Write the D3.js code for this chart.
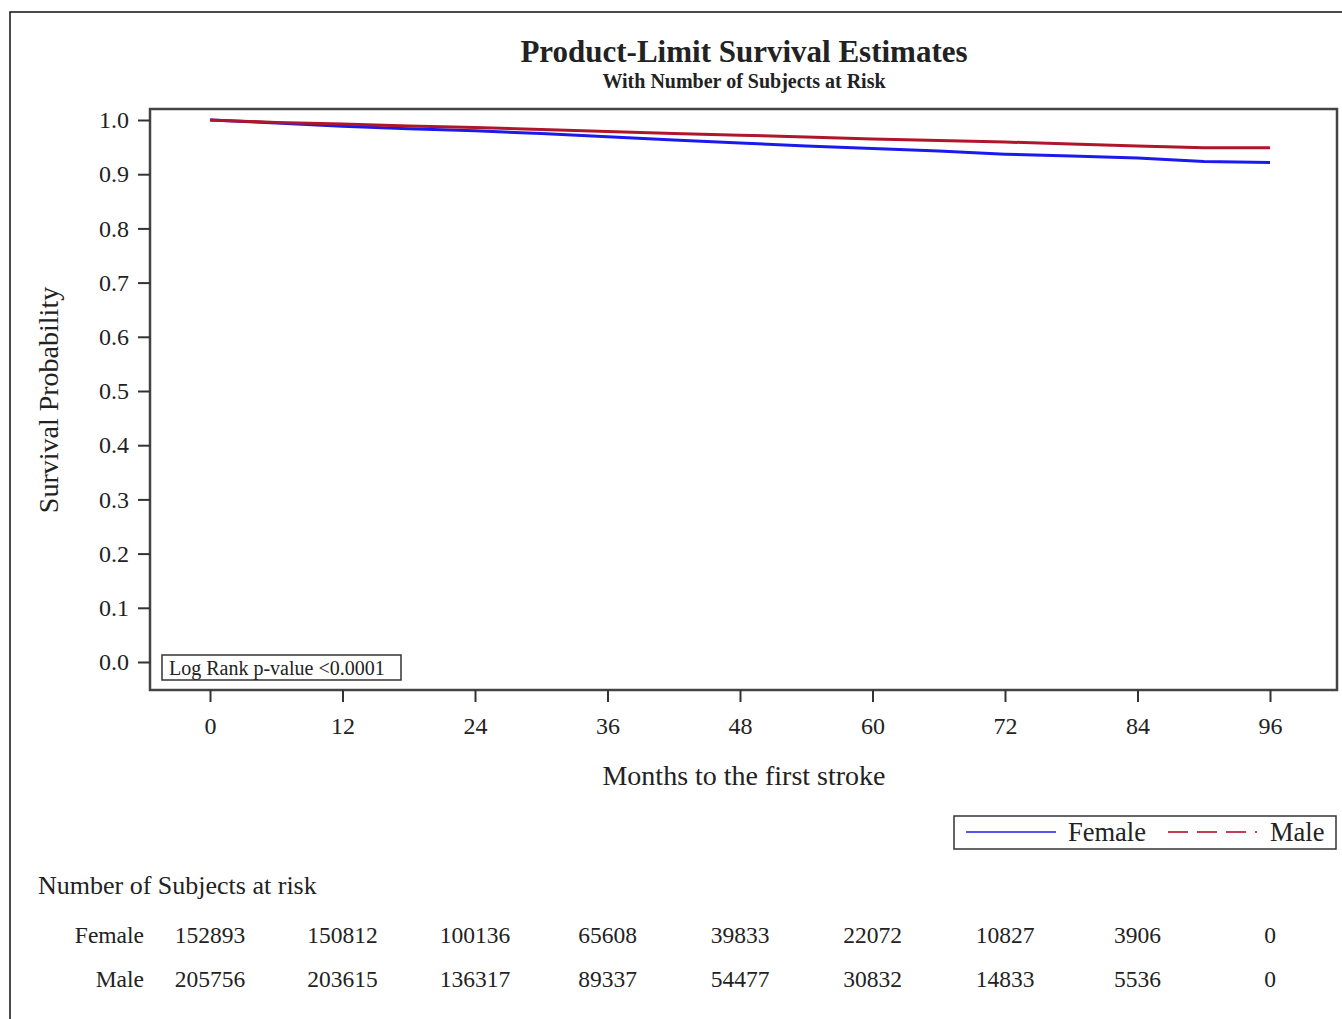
<!DOCTYPE html>
<html><head><meta charset="utf-8">
<script src="https://cdn.jsdelivr.net/npm/d3@7/dist/d3.min.js"></script>
<style>body{margin:0;background:#fff}svg{display:block}text{font-family:"Liberation Serif","Times New Roman",serif;fill:#222}</style>
</head><body><svg id="c" width="1342" height="1019"></svg>
<script>
const months=[0,6,12,18,24,30,36,42,48,54,60,66,72,78,84,90,96];
const female=[1.0,0.9945,0.9885,0.984,0.98,0.975,0.969,0.963,0.9575,0.952,0.9475,0.943,0.937,0.9335,0.930,0.9235,0.9215];
const male=[1.0,0.9955,0.9925,0.989,0.986,0.9825,0.979,0.975,0.972,0.9685,0.965,0.962,0.9595,0.9555,0.952,0.949,0.949];
const xTicks=[0,12,24,36,48,60,72,84,96];
const yTicks=[0,0.1,0.2,0.3,0.4,0.5,0.6,0.7,0.8,0.9,1.0];
const riskFemale=[152893,150812,100136,65608,39833,22072,10827,3906,0];
const riskMale=[205756,203615,136317,89337,54477,30832,14833,5536,0];
const groups=["Female","Male"];
const colors={Female:"#1a1aee",Male:"#b0162a"};

const svg=d3.select("#c");
svg.append("path").attr("d","M10,1019 V12 H1342").attr("fill","none").attr("stroke","#111").attr("stroke-width",1.5);

const L=150,T=109,R=1337,B=690;
const x=d3.scaleLinear().domain([0,96]).range([210,1270]);
const y=d3.scaleLinear().domain([0,1]).range([662,120]);

svg.append("text").attr("x",744).attr("y",62).attr("text-anchor","middle").attr("font-size",31).attr("font-weight","bold").text("Product-Limit Survival Estimates");
svg.append("text").attr("x",744).attr("y",88).attr("text-anchor","middle").attr("font-size",20).attr("font-weight","bold").text("With Number of Subjects at Risk");

svg.append("rect").attr("x",L).attr("y",T).attr("width",R-L).attr("height",B-T).attr("fill","none").attr("stroke","#444").attr("stroke-width",2.5);

const ya=svg.append("g").attr("transform",`translate(${L},0)`).call(d3.axisLeft(y).tickValues(yTicks).tickFormat(d3.format(".1f")).tickSize(12).tickSizeOuter(0));
ya.select(".domain").remove();
ya.selectAll("line").attr("stroke","#333").attr("stroke-width",2);
ya.selectAll("text").attr("font-size",24).attr("font-family","Liberation Serif").attr("fill","#222").attr("dx",-6);

const xa=svg.append("g").attr("transform",`translate(0,${B})`).call(d3.axisBottom(x).tickValues(xTicks).tickSize(12).tickSizeOuter(0));
xa.select(".domain").remove();
xa.selectAll("line").attr("stroke","#333").attr("stroke-width",2);
xa.selectAll("text").attr("font-size",24).attr("font-family","Liberation Serif").attr("fill","#222").attr("dy","1.2em");

svg.append("text").attr("x",744).attr("y",785).attr("text-anchor","middle").attr("font-size",28).text("Months to the first stroke");
svg.append("text").attr("transform","translate(58,400) rotate(-90)").attr("text-anchor","middle").attr("font-size",28).text("Survival Probability");

const line=d3.line().x(d=>x(d[0])).y(d=>y(d[1]));
[["Female",female],["Male",male]].forEach(([g,vals])=>{
  svg.append("path").datum(months.map((m,i)=>[m,vals[i]])).attr("d",line).attr("fill","none").attr("stroke",colors[g]).attr("stroke-width",3);
});

svg.append("rect").attr("x",162).attr("y",655).attr("width",239).attr("height",25).attr("fill","#fff").attr("stroke","#333").attr("stroke-width",1.5);
svg.append("text").attr("x",169).attr("y",675).attr("font-size",20).text("Log Rank p-value <0.0001");

svg.append("rect").attr("x",954).attr("y",816).attr("width",382).attr("height",33).attr("fill","#fff").attr("stroke","#333").attr("stroke-width",1.5);
svg.append("line").attr("x1",966).attr("x2",1056).attr("y1",832).attr("y2",832).attr("stroke","#5555ee").attr("stroke-width",2);
svg.append("text").attr("x",1068).attr("y",841).attr("font-size",26.5).text("Female");
svg.append("line").attr("x1",1168).attr("x2",1257).attr("y1",832).attr("y2",832).attr("stroke","#c0404f").attr("stroke-width",2).attr("stroke-dasharray","20,9");
svg.append("text").attr("x",1270).attr("y",841).attr("font-size",26.5).text("Male");

svg.append("text").attr("x",38).attr("y",894).attr("font-size",26).text("Number of Subjects at risk");
[["Female",riskFemale,943],["Male",riskMale,987]].forEach(([g,vals,yy])=>{
  svg.append("text").attr("x",144).attr("y",yy).attr("text-anchor","end").attr("font-size",23.5).text(g);
  svg.selectAll(null).data(vals).enter().append("text").attr("x",(d,i)=>x(xTicks[i])).attr("y",yy).attr("text-anchor","middle").attr("font-size",23.5).text(d=>d);
});
</script></body></html>
